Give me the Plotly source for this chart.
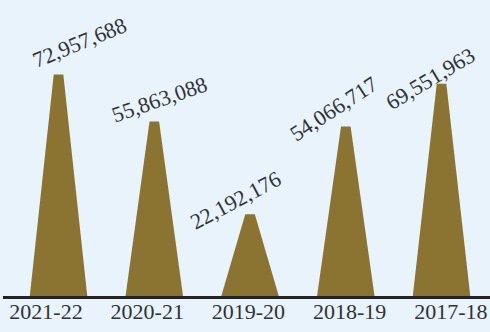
import plotly.graph_objects as go

categories = ["2021-22", "2020-21", "2019-20", "2018-19", "2017-18"]
values = [72957688, 55863088, 22192176, 54066717, 69551963]
value_labels = ["72,957,688", "55,863,088", "22,192,176", "54,066,717", "69,551,963"]

# styling
BAR = "#8B7332"
BG = "#E9F3FB"
TXT = "#2f3236"
FONT = "Liberation Serif"
Y0 = -7.5e6
Y1 = 100e6
HALF_BASE = 0.30
HALF_TOP = 0.05
angles = [-22, -19, -28, -33, -31]
shifts = [(21, 32), (5, 22), (-15, 14), (-12, 18), (-11, 5)]

fig = go.Figure()
for i, v in enumerate(values):
    xs = [i - HALF_BASE, i - HALF_TOP, i + HALF_TOP, i + HALF_BASE, i - HALF_BASE]
    ys = [Y0, v, v, Y0, Y0]
    fig.add_trace(go.Scatter(x=xs, y=ys, mode="lines", fill="toself",
                             fillcolor=BAR, line=dict(width=0, color=BAR),
                             hoverinfo="skip", showlegend=False))
    fig.add_annotation(x=i, y=v, text=value_labels[i], showarrow=False,
                       xanchor="center", yanchor="middle",
                       xshift=shifts[i][0], yshift=shifts[i][1],
                       textangle=angles[i],
                       font=dict(family=FONT, size=22, color=TXT))

# invisible trace carrying the category label axis
fig.add_trace(go.Scatter(x=list(range(len(categories))), y=[Y0] * len(categories),
                         xaxis="x2", yaxis="y", mode="markers",
                         marker=dict(opacity=0), hoverinfo="skip", showlegend=False))

fig.update_layout(
    width=490, height=332,
    margin=dict(l=3, r=0, t=0, b=36),
    paper_bgcolor=BG, plot_bgcolor=BG,
    showlegend=False,
    xaxis=dict(range=[-0.58, 4.506], showticklabels=False, showgrid=False, zeroline=False,
               showline=True, linecolor="#222222", linewidth=2.5, ticks=""),
    xaxis2=dict(range=[-0.425, 4.387], overlaying="x", side="bottom", anchor="y",
                tickmode="array", tickvals=list(range(len(categories))),
                ticktext=categories, showgrid=False, zeroline=False, showline=False,
                ticks="", tickfont=dict(family=FONT, size=22, color=TXT)),
    yaxis=dict(range=[Y0, Y1], visible=False, showgrid=False, zeroline=False),
)

fig.write_html("out.html")
